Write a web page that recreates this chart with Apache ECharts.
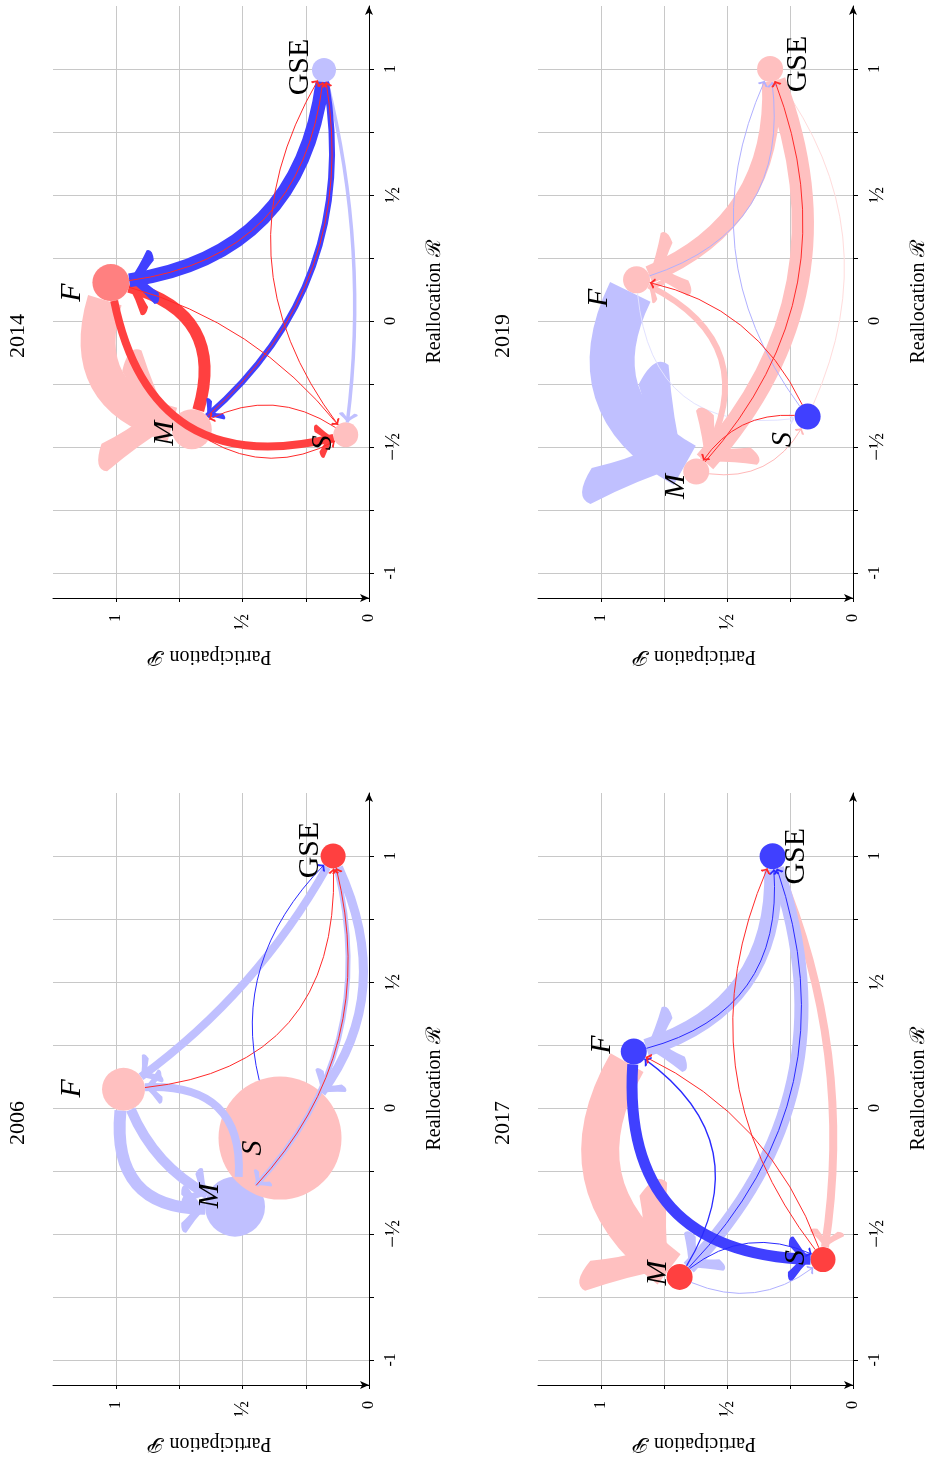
<!DOCTYPE html>
<html><head><meta charset="utf-8">
<script src="https://cdn.jsdelivr.net/npm/echarts@6/dist/echarts.min.js"></script>
<style>html,body{margin:0;padding:0;background:#fff}#c{width:930px;height:1461px}</style>
</head><body><div id="c"></div>
<script>
// ---------------- data ----------------
const years = ['2014', '2019', '2006', '2017'];
const nodeNames = ['F', 'M', 'S', 'GSE'];

// Participation P and Reallocation R of the nodes F, M, S, GSE
const P2014 = [1.021, 0.701, 0.092, 0.178];
const R2014 = [0.152, -0.430, -0.452, 0.996];
const size2014 = [37, 40, 25, 24];
const tone2014 = ['midRed', 'paleRed', 'paleRed', 'paleBlue'];

const P2019 = [0.859, 0.622, 0.180, 0.329];
const R2019 = [0.163, -0.598, -0.380, 1.000];
const size2019 = [27, 26, 26, 26];
const tone2019 = ['paleRed', 'paleRed', 'strongBlue', 'paleRed'];

const P2006 = [0.971, 0.530, 0.352, 0.142];
const R2006 = [0.074, -0.392, -0.120, 1.000];
const size2006 = [43, 60, 123, 25];
const tone2006 = ['paleRed', 'paleBlue', 'paleRed', 'strongRed'];

const P2017 = [0.870, 0.688, 0.119, 0.319];
const R2017 = [0.224, -0.671, -0.602, 0.999];
const size2017 = [26, 26, 25, 26];
const tone2017 = ['strongBlue', 'strongRed', 'strongRed', 'strongBlue'];

// flows: [from, to, weight (line width), bend, tone]
const edges2014 = [
  ['F', 'M', 35, -0.60, 'paleRed'],
  ['GSE', 'S', 3.5, 0.10, 'paleBlue'],
  ['M', 'F', 12, -0.60, 'strongRed'],
  ['F', 'S', 8, -0.56, 'strongRed'],
  ['GSE', 'F', 14, 0.41, 'strongBlue'],
  ['GSE', 'M', 6, 0.30, 'strongBlue'],
  ['M', 'GSE', 1, -0.30, 'thinRed'],
  ['F', 'GSE', 1, -0.42, 'thinRed'],
  ['S', 'GSE', 1, 0.35, 'thinRed'],
  ['F', 'S', 1, 0.18, 'thinRed'],
  ['S', 'M', 1, -0.35, 'thinRed'],
  ['M', 'S', 1, -0.34, 'thinRed']
];
const edges2019 = [
  ['F', 'M', 45, -0.52, 'paleBlue'],
  ['F', 'S', 1, -0.56, 'ghostBlue'],
  ['S', 'GSE', 1, -0.31, 'ghostRed'],
  ['M', 'S', 1, -0.40, 'faintRed'],
  ['GSE', 'M', 22, 0.32, 'paleRed'],
  ['GSE', 'F', 18, 0.38, 'paleRed'],
  ['M', 'F', 6, -0.57, 'paleRed'],
  ['S', 'GSE', 1, 0.31, 'faintBlue'],
  ['F', 'GSE', 1, -0.45, 'faintBlue'],
  ['S', 'F', 1, -0.27, 'thinRed'],
  ['S', 'M', 1, -0.34, 'thinRed'],
  ['M', 'GSE', 1, -0.32, 'thinRed']
];
const edges2006 = [
  ['F', 'M', 12, -0.69, 'paleBlue'],
  ['F', 'M', 10, -0.25, 'paleBlue'],
  ['M', 'F', 8, -0.69, 'paleBlue'],
  ['GSE', 'F', 8, 0.12, 'paleBlue'],
  ['GSE', 'S', 9, 0.38, 'paleBlue'],
  ['GSE', 'M', 5, 0.30, 'paleBlue'],
  ['M', 'GSE', 1, -0.30, 'thinRed'],
  ['F', 'GSE', 1, -0.50, 'thinRed'],
  ['S', 'GSE', 1, 0.36, 'thinBlue']
];
const edges2017 = [
  ['F', 'M', 38, -0.48, 'paleRed'],
  ['GSE', 'S', 8, 0.15, 'paleRed'],
  ['GSE', 'M', 14, 0.32, 'paleBlue'],
  ['GSE', 'F', 18, 0.41, 'paleBlue'],
  ['F', 'S', 11, -0.55, 'strongBlue'],
  ['M', 'GSE', 1, -0.32, 'thinBlue'],
  ['F', 'GSE', 1, -0.45, 'thinBlue'],
  ['M', 'F', 1.3, -0.50, 'thinBlue'],
  ['M', 'S', 1, 0.35, 'thinBlue'],
  ['M', 'S', 1, -0.34, 'faintBlue'],
  ['S', 'F', 1, -0.22, 'thinRed'],
  ['S', 'GSE', 1, 0.31, 'thinRed']
];

const rTicks = [-1, -0.75, -0.5, -0.25, 0, 0.25, 0.5, 0.75, 1];
const rLabels = [-1, -0.5, 0, 0.5, 1];
const pTicks = [0, 0.25, 0.5, 0.75, 1];
const pLabels = [0, 0.5, 1];
const tickText = { '-1': '-1', '-0.5': '{f|\u2212\u00bd}', '0': '0', '0.5': '{f|\u00bd}', '1': '1' };

// ---------------- styles / layout ----------------
const COLORS = {
  strongRed: '#ff4040', paleRed: '#ffc0c0', midRed: '#ff8080',
  strongBlue: '#4040ff', paleBlue: '#c0c0ff',
  thinRed: '#ff2a2a', thinBlue: '#2a2aff',
  faintBlue: '#b0b0ff', faintRed: '#ffb8b8', ghostBlue: '#e2e2ff', ghostRed: '#ffdcdc'
};
const SERIF = "'Liberation Serif','DejaVu Serif',serif";
// arrow head with rounded barbs; tip at the centre of its box
const CHEV = 'path://M0,0Q22,40,50,76Q52,98,30,96Q14,62,0,44Q-14,62,-30,96Q-52,98,-50,76Q-22,40,0,0ZM0,-98L0.01,-98Z';

const panels = [
  { P: P2014, R: R2014, size: size2014, tone: tone2014, edges: edges2014, left: 53, top: 6, title: [18, 336],
    lab: [[-39, 10], [-27, 4], [-23, 8], [-24, -3]] },
  { P: P2019, R: R2019, size: size2019, tone: tone2019, edges: edges2019, left: 538, top: 6, title: [503, 336],
    lab: [[-37, 18], [-20, 15], [-25, 23], [28, -5]] },
  { P: P2006, R: R2006, size: size2006, tone: tone2006, edges: edges2006, left: 53, top: 793, title: [18, 1123],
    lab: [[-51, -1], [-25, -11], [-27, 10], [-23, -6]] },
  { P: P2017, R: R2017, size: size2017, tone: tone2017, edges: edges2017, left: 538, top: 793, title: [503, 1123],
    lab: [[-32, -7], [-22, -4], [-27, -2], [24, 0]] }
];

const labelStyle = {
  formatter: v => tickText[String(v)], rotate: 90,
  fontSize: 16, fontFamily: SERIF, color: '#000',
  rich: { f: { fontSize: 21, fontFamily: SERIF, color: '#000' } }
};

const grids = [], xAxes = [], yAxes = [], series = [], graphics = [];
panels.forEach((pan, i) => {
  grids.push({ left: pan.left, top: pan.top, width: 316, height: 592, containLabel: false });
  xAxes.push({
    gridIndex: i, type: 'value', min: 0, max: 1.25, inverse: true, position: 'bottom',
    axisLine: { show: true, onZero: false, lineStyle: { color: '#000', width: 1 }, symbol: ['none', 'arrow'], symbolSize: [6, 9] },
    axisTick: { show: true, customValues: pTicks, length: 4, lineStyle: { color: '#000' } },
    axisLabel: Object.assign({ customValues: pLabels, margin: 16 }, labelStyle),
    splitLine: { show: true, lineStyle: { color: '#c8c8c8', width: 1 } },
    name: 'Participation \ud835\udcab', nameLocation: 'middle', nameGap: 48, nameRotate: 180,
    nameTextStyle: { fontSize: 20, fontFamily: SERIF, color: '#000' }
  });
  yAxes.push({
    gridIndex: i, type: 'value', min: -1.1, max: 1.25, position: 'right',
    axisLine: { show: true, onZero: false, lineStyle: { color: '#000', width: 1 }, symbol: ['none', 'arrow'], symbolSize: [6, 9] },
    axisTick: { show: true, customValues: rTicks, length: 5, lineStyle: { color: '#000' } },
    axisLabel: Object.assign({ customValues: rLabels, margin: 14 }, labelStyle),
    splitLine: { show: true, lineStyle: { color: '#c8c8c8', width: 1 } },
    name: 'Reallocation \u211b', nameLocation: 'middle', nameGap: 56, nameRotate: 90,
    nameTextStyle: { fontSize: 20, fontFamily: SERIF, color: '#000' }
  });
  series.push({
    type: 'scatter', xAxisIndex: i, yAxisIndex: i, z: 2, silent: true, animation: false, symbol: 'circle',
    data: nodeNames.map((n, k) => ({ value: [pan.P[k], pan.R[k]], symbolSize: pan.size[k],
      itemStyle: { color: COLORS[pan.tone[k]], opacity: 1 } }))
  });
  series.push({
    type: 'graph', coordinateSystem: 'cartesian2d', xAxisIndex: i, yAxisIndex: i, layout: 'none',
    z: 3, silent: true, animation: false, symbol: 'circle', itemStyle: { color: 'rgba(0,0,0,0)' },
    edgeSymbol: ['circle', CHEV], edgeSymbolSize: [0.01, 10],
    label: { show: true, formatter: '{b}', rotate: 90, position: 'inside', fontSize: 30, fontFamily: SERIF, color: '#000' },
    lineStyle: { opacity: 1 }, emphasis: { disabled: true },
    data: nodeNames.map((n, k) => ({
      name: n, value: [pan.P[k], pan.R[k]], symbolSize: pan.size[k],
      label: { offset: [-pan.lab[k][1], pan.lab[k][0]], fontStyle: n === 'GSE' ? 'normal' : 'italic' }
    })),
    links: pan.edges.map(e => ({
      source: e[0], target: e[1],
      symbol: ['circle', CHEV], symbolSize: [0.01, 3.4 * e[2] + 7],
      lineStyle: { width: e[2], color: COLORS[e[4]], curveness: e[3], opacity: 1 }
    }))
  });
  graphics.push({
    type: 'text', x: pan.title[0], y: pan.title[1], rotation: Math.PI / 2, silent: true,
    style: { text: years[i], fill: '#000', font: '22px ' + SERIF, align: 'center', verticalAlign: 'middle',
      textAlign: 'center', textVerticalAlign: 'middle' }
  });
});

const chart = echarts.init(document.getElementById('c'), null, { renderer: 'canvas' });
chart.setOption({
  animation: false, backgroundColor: '#fff',
  grid: grids, xAxis: xAxes, yAxis: yAxes, series: series, graphic: graphics
});
</script></body></html>
